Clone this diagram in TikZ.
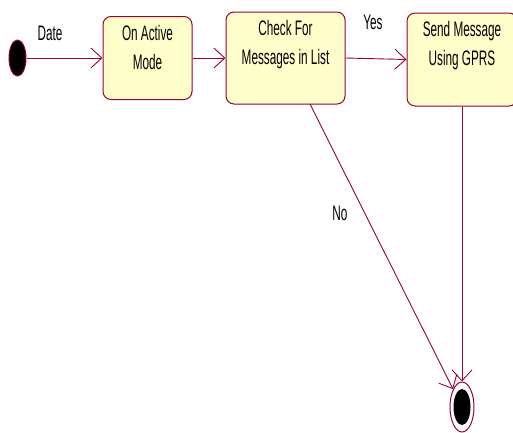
\documentclass[tikz,border=0pt]{standalone}
\usepackage{fontspec}
\setmainfont{Liberation Sans}[FakeStretch=0.56]
\usetikzlibrary{arrows.meta,shapes.geometric}
\definecolor{umlred}{RGB}{153,0,51}
\definecolor{umlfill}{RGB}{255,255,204}

\begin{document}
\begin{tikzpicture}[x=1pt,y=1pt]
\tikzstyle{every node}+=[inner sep=0pt]
\tikzstyle{state}=[draw=umlred, fill=umlfill, rounded corners=8pt, line width=1pt]
\tikzstyle{txt}=[font=\fontsize{21}{29}\selectfont, align=center]
\tikzstyle{flow}=[draw=umlred, line width=0.9pt, -{Straight Barb[length=11pt,width=20pt]}]
\useasboundingbox (0,0) rectangle (513,-432);
\node [draw=umlred, fill=black, ellipse, line width=1pt, minimum width=17pt, minimum height=36pt] (start) at (17.5,-58) {};
\node [state, minimum width=89pt, minimum height=83pt, label={[txt,anchor=north,yshift=-9pt]north:On Active\\Mode}] (active) at (147.5,-58) {};
\node [state, minimum width=119pt, minimum height=92pt, label={[txt,anchor=north,yshift=-9pt]north:Check For\\Messages in List}] (check) at (285.5,-58) {};
\node [state, minimum width=110pt, minimum height=93pt, label={[txt,anchor=north,yshift=-9pt]north:Send Message\\Using GPRS}] (send) at (462,-59.5) {};
\node [draw=umlred, fill=white, ellipse, line width=1pt, minimum width=24pt, minimum height=50pt] (finish) at (462,-407) {};
\fill [black] (finish.center) ellipse (8.5 and 18);
\coordinate (nofrom) at (310,-104);
\draw [flow] (start) -- (active);
\node [txt] (datelbl) at (50,-33) {Date};
\draw [flow] (active) -- (check);
\draw [flow] (check.east) -- (send.west);
\node [txt] (yeslbl) at (373,-22) {Yes};
\draw [flow] (nofrom) -- (finish);
\node [txt] (nolbl) at (340,-213) {No};
\draw [flow] (send.south) -- (finish.north);
\end{tikzpicture}
\end{document}
